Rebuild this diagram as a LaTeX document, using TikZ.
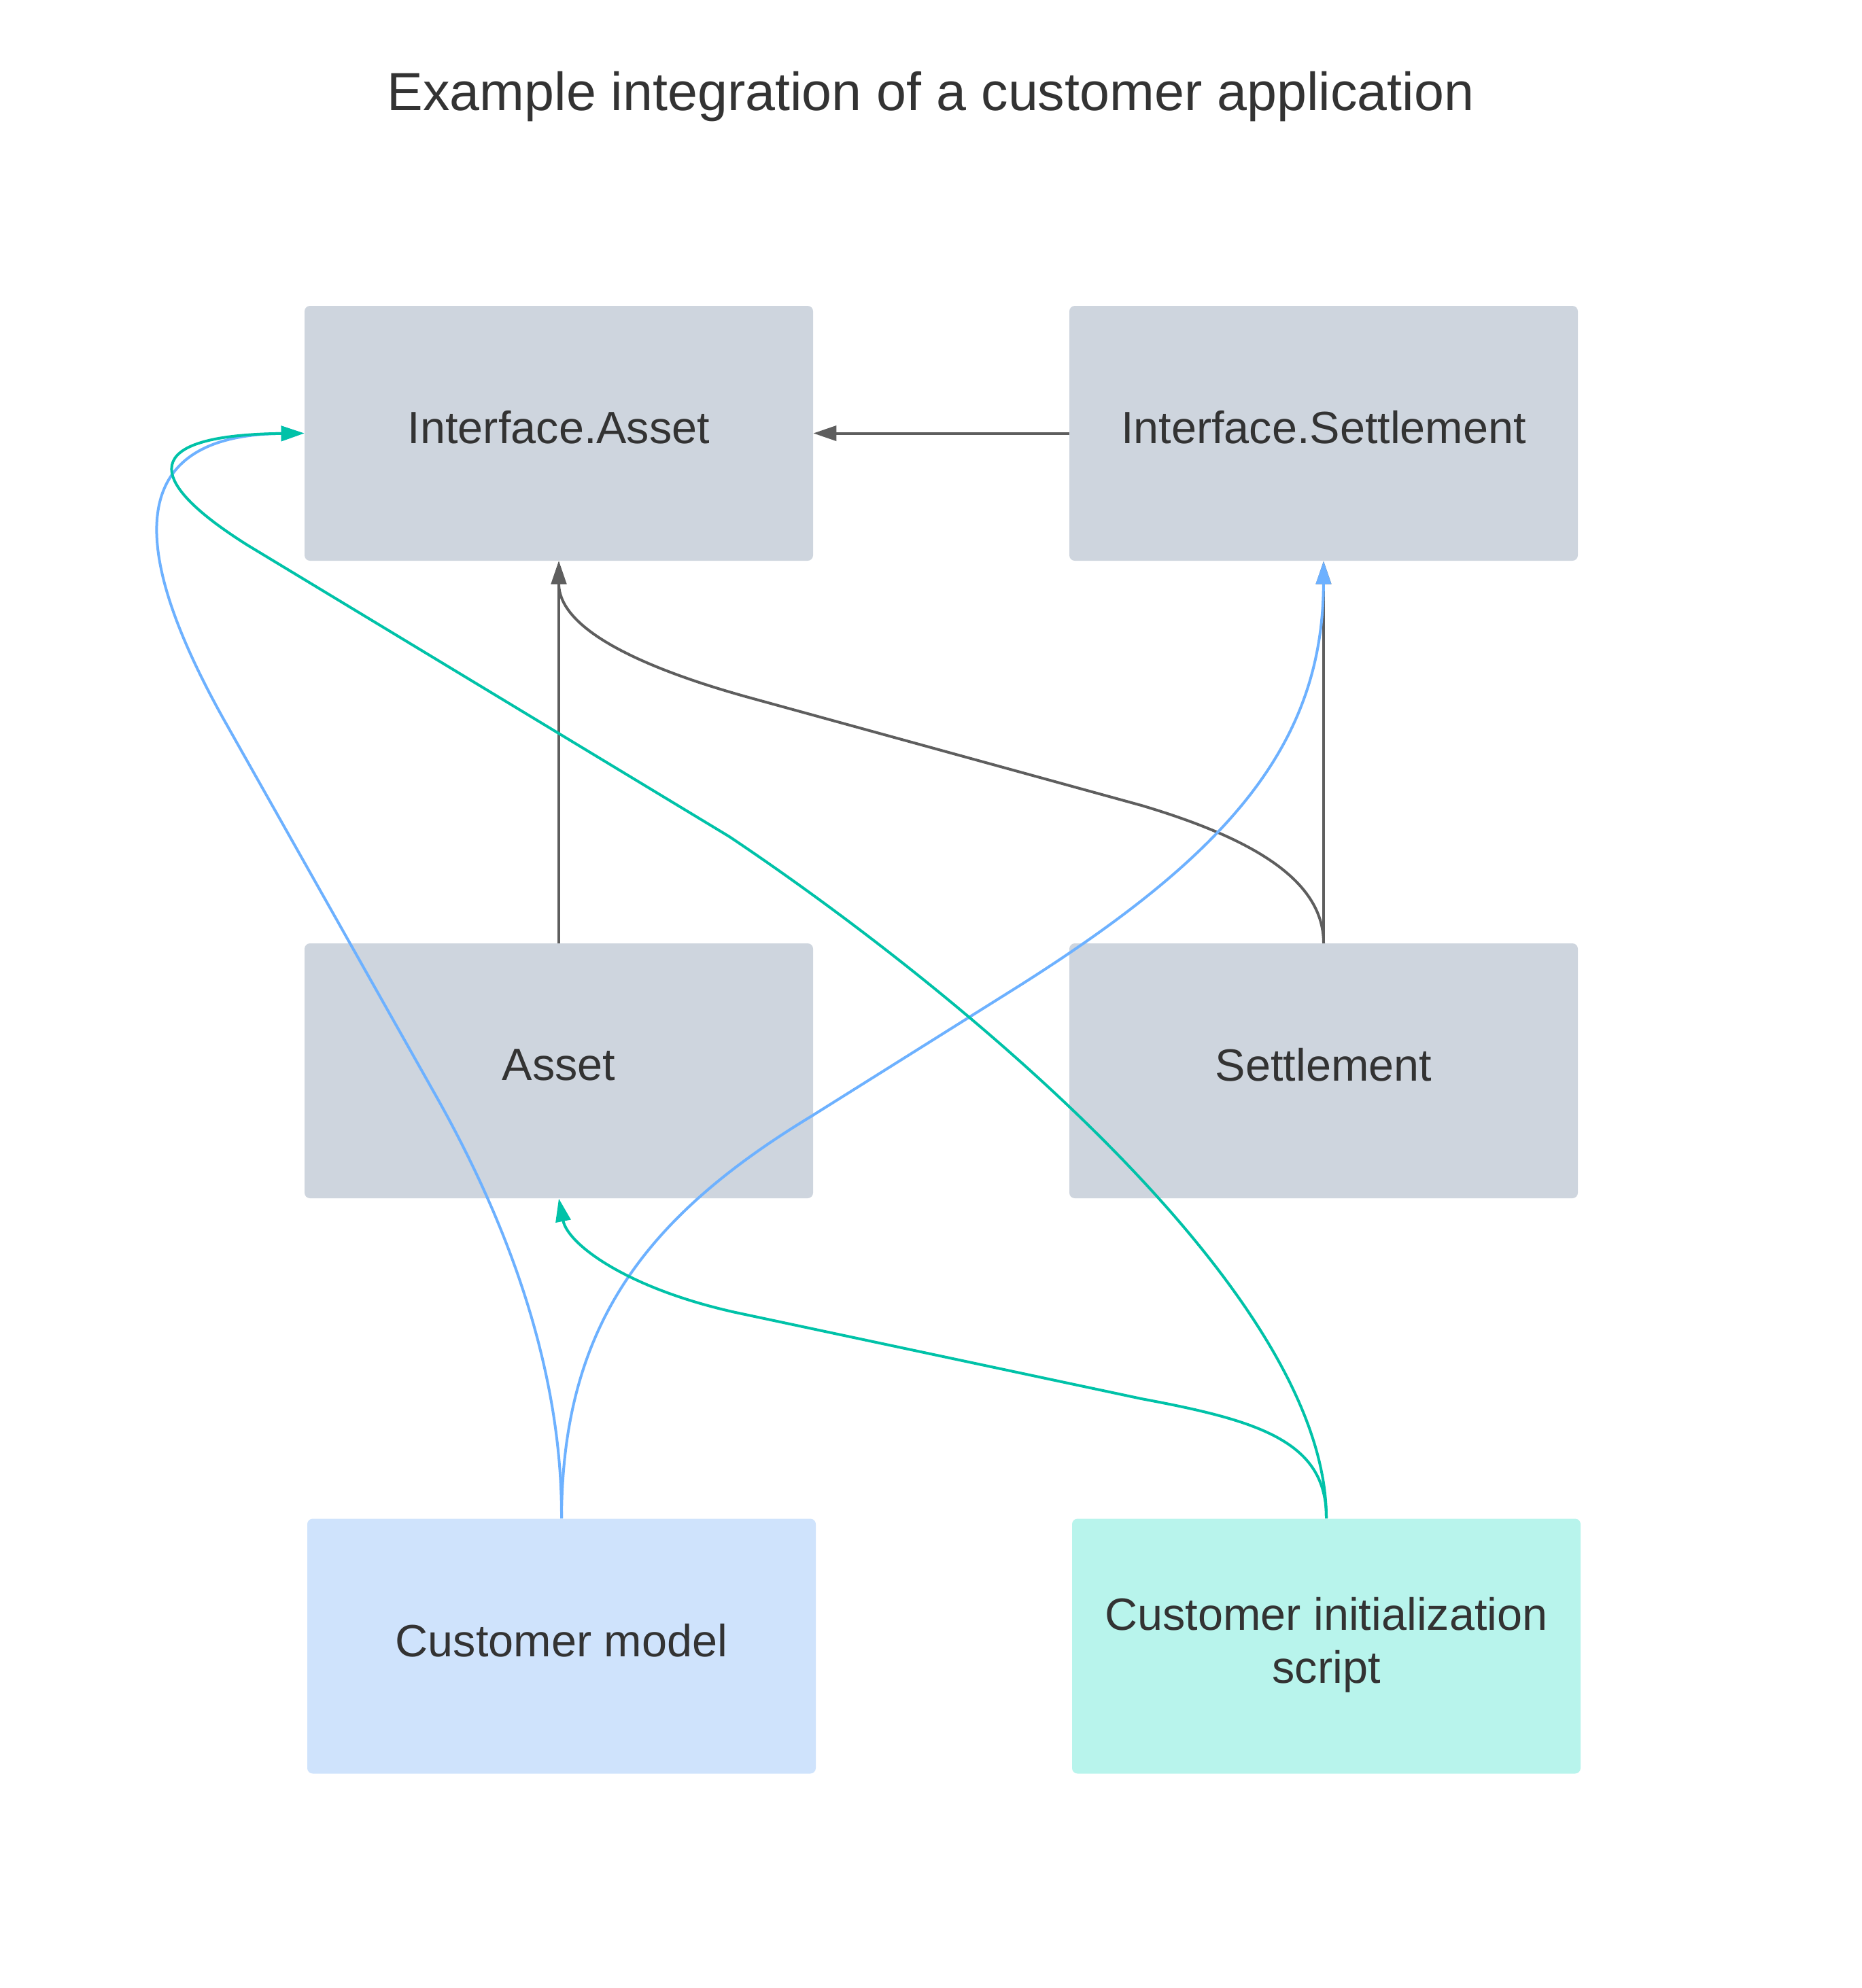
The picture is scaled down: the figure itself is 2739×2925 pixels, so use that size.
\documentclass[tikz,border=0pt]{standalone}
\usepackage{fontspec}
\setmainfont{Liberation Sans}
\usetikzlibrary{arrows.meta}
\definecolor{boxgray}{HTML}{CED5DE}
\definecolor{boxblue}{HTML}{CFE3FC}
\definecolor{boxmint}{HTML}{B8F4EC}
\definecolor{txt}{HTML}{333333}
\definecolor{lgray}{HTML}{5E5E5E}
\definecolor{lblue}{HTML}{6DB1FF}
\definecolor{lgreen}{HTML}{00C2A8}
\begin{document}
\begin{tikzpicture}[x=0.5pt,y=-0.5pt,
  box/.style={rectangle, rounded corners=4pt, minimum width=374pt, minimum height=187.5pt,
    inner sep=0pt, align=center, font=\fontsize{33.3}{39}\selectfont, text=txt, text depth=9pt},
  conn/.style={line width=2pt, -{Triangle[length=17pt,width=11pt]}},
  gline/.style={conn, draw=lgray},
  bline/.style={conn, draw=lblue},
  tline/.style={conn, draw=lgreen}]
\useasboundingbox (0,0) rectangle (2739,2925);
\node[anchor=base, font=\fontsize{39.5}{45}\selectfont, text=txt] (title) at (1369,162) {Example integration of a customer application};
\node[box, fill=boxgray] (ia) at (822,637.5) {Interface.Asset};
\node[box, fill=boxgray] (is) at (1947,637.5) {Interface.Settlement};
\node[box, fill=boxgray] (asset) at (822,1575.5) {Asset};
\node[box, fill=boxgray] (settl) at (1947,1575.5) {Settlement};
\node[box, fill=boxblue] (cm) at (826,2422) {Customer model};
\node[box, fill=boxmint, text depth=9pt] (ci) at (1951,2422) {Customer initialization\\script};
% gray connectors
\draw[gline] (is.west) -- (ia.east);
\draw[gline] (asset.north) -- (ia.south);
\draw[gline] (settl.north) -- (is.south);
\draw[gline] (settl.north) .. controls (1947,1290) and (1830,1230) .. (1679,1185)
  -- (1101,1026) .. controls (960,987) and (822,930) .. (ia.south);
% blue connectors
\draw[bline] (cm.north) .. controls (827,1950) and (950,1790) .. (1194,1642)
  -- (1500,1450) .. controls (1800,1260) and (1946,1100) .. (is.south);
\draw[bline] (cm.north) .. controls (827,2050) and (770,1840) .. (640,1610)
  -- (330,1060) .. controls (190,810) and (180,640) .. (ia.west);
% green connectors
\draw[tline] (ci.north) .. controls (1952,1900) and (1400,1450) .. (1073,1231)
  -- (364,802) .. controls (210,705) and (205,640) .. (ia.west);
\draw[tline] (ci.north) .. controls (1952,2120) and (1850,2090) .. (1679,2058)
  -- (1082,1931) .. controls (920,1895) and (835,1830) .. (asset.south);
\end{tikzpicture}
\end{document}
